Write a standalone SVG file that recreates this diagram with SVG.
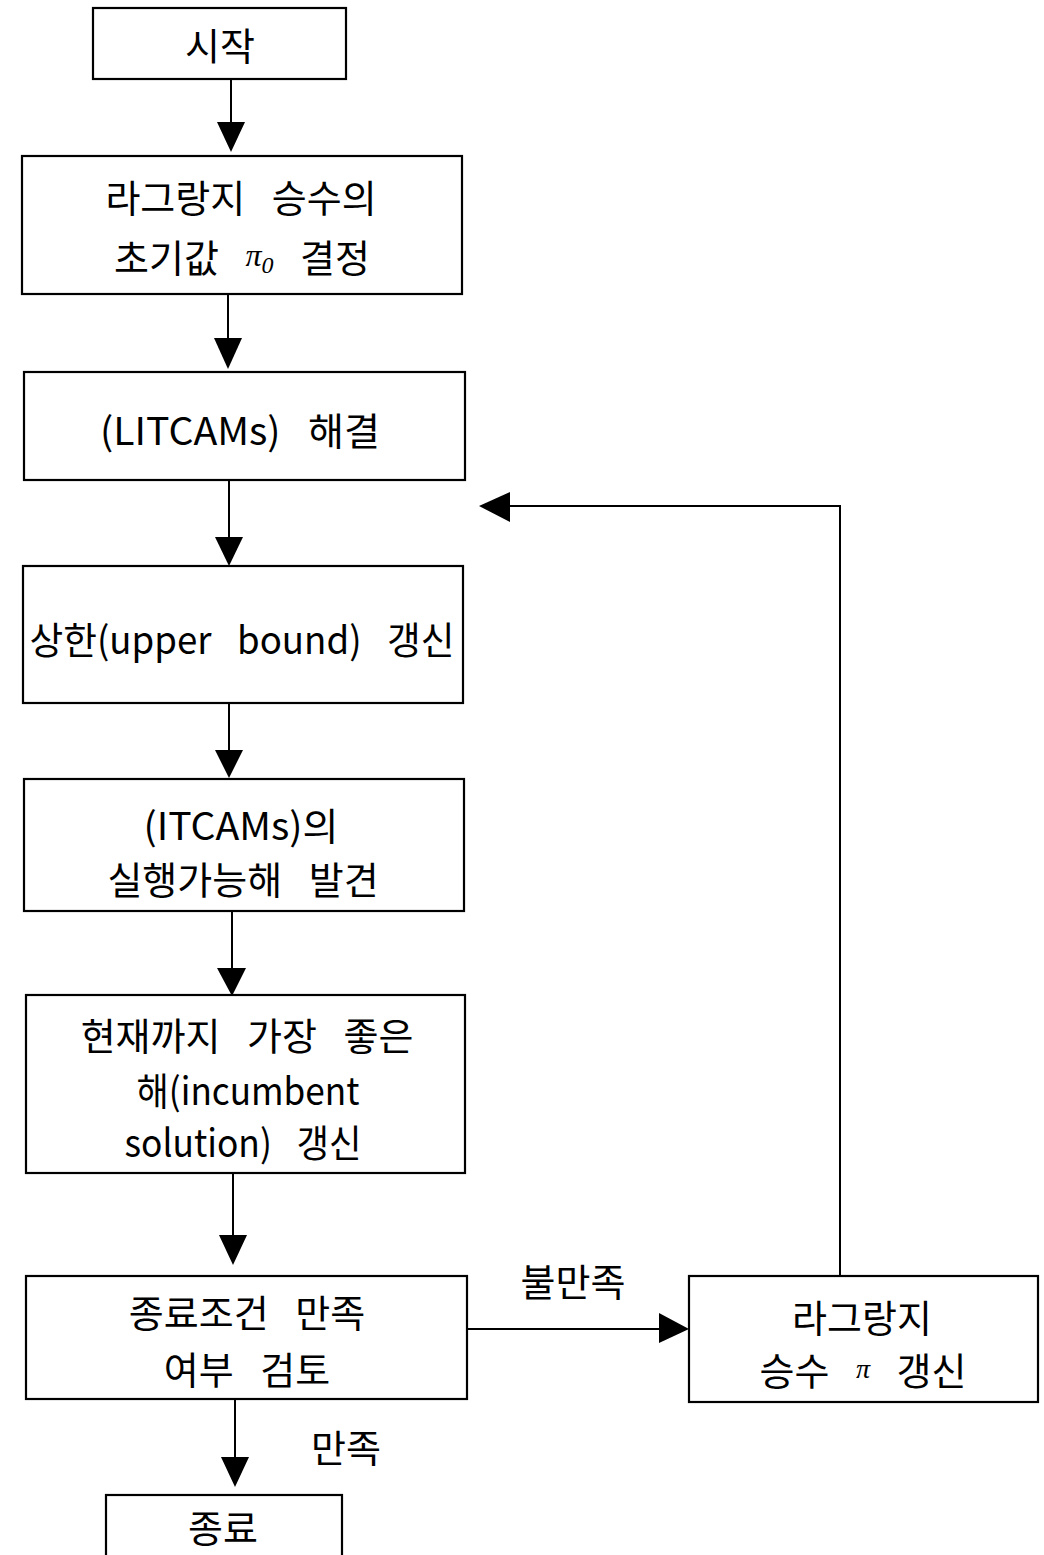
<svg xmlns="http://www.w3.org/2000/svg" width="1044" height="1555" viewBox="0 0 1044 1555">
<style>
.box{fill:#fff;stroke:#000;stroke-width:2.2}
.t{font-family:"Noto Sans CJK KR","Noto Sans",sans-serif;font-size:38px;fill:#000;text-anchor:middle;dominant-baseline:central;word-spacing:18px}
.lab{font-family:"Noto Sans CJK KR","Noto Sans",sans-serif;font-size:38px;fill:#000;text-anchor:middle;dominant-baseline:central}
.pi{font-family:"Liberation Serif",serif;font-style:italic}
.ln{fill:none;stroke:#000;stroke-width:2}
.hd{fill:#000;stroke:none}
</style>
<rect width="1044" height="1555" fill="#fff"/>
<g id="connectors">
<line class="ln" x1="231" y1="79" x2="231" y2="124"/><polygon class="hd" points="217,122 245,122 231,152"/>
<line class="ln" x1="228" y1="294" x2="228" y2="340"/><polygon class="hd" points="214,338 242,338 228,369"/>
<line class="ln" x1="229" y1="480" x2="229" y2="539"/><polygon class="hd" points="215,537 243,537 229,566"/>
<line class="ln" x1="229" y1="703" x2="229" y2="752"/><polygon class="hd" points="215,750 243,750 229,778"/>
<line class="ln" x1="232" y1="911" x2="232" y2="970"/><polygon class="hd" points="217,968 246,968 232,996"/>
<line class="ln" x1="233" y1="1173" x2="233" y2="1237"/><polygon class="hd" points="219,1235 247,1235 233,1265"/>
<line class="ln" x1="467" y1="1329" x2="661" y2="1329"/><polygon class="hd" points="659,1313 659,1343 689,1329"/>
<polyline class="ln" points="840,1276 840,506 508,506"/><polygon class="hd" points="510,492 510,522 479,506"/>
<line class="ln" x1="235" y1="1399" x2="235" y2="1459"/><polygon class="hd" points="221,1457 249,1457 235,1487"/>
<text class="lab" x="573" y="1279">불만족</text>
<text class="lab" x="346" y="1445">만족</text>
</g>
<g id="start"><rect class="box" x="93" y="8" width="253" height="71"/><text class="t" x="220" y="43">시작</text></g>
<g id="init"><rect class="box" x="22" y="156" width="440" height="138"/>
<text class="t" x="241" y="195">라그랑지 승수의</text>
<text class="t" x="242" y="255">초기값 <tspan class="pi" font-size="32">π</tspan><tspan class="pi" font-size="24" dy="10" font-style="normal">0</tspan><tspan dy="-10"> 결정</tspan></text></g>
<g id="solve"><rect class="box" x="24" y="372" width="441" height="108"/><text class="t" x="240" y="428" textLength="280" lengthAdjust="spacingAndGlyphs">(LITCAMs) 해결</text></g>
<g id="upper"><rect class="box" x="23" y="566" width="440" height="137"/><text class="t" x="242" y="637" textLength="425" lengthAdjust="spacingAndGlyphs">상한(upper bound) 갱신</text></g>
<g id="feasible"><rect class="box" x="24" y="779" width="440" height="132"/>
<text class="t" x="241" y="823" textLength="195" lengthAdjust="spacingAndGlyphs">(ITCAMs)의</text>
<text class="t" x="243" y="877">실행가능해 발견</text></g>
<g id="incumbent"><rect class="box" x="26" y="995" width="439" height="178"/>
<text class="t" x="247" y="1033">현재까지 가장 좋은</text>
<text class="t" x="248" y="1088" textLength="223" lengthAdjust="spacingAndGlyphs">해(incumbent</text>
<text class="t" x="243" y="1140" textLength="237" lengthAdjust="spacingAndGlyphs">solution) 갱신</text></g>
<g id="check"><rect class="box" x="26" y="1276" width="441" height="123"/>
<text class="t" x="247" y="1310">종료조건 만족</text>
<text class="t" x="247" y="1367">여부 검토</text></g>
<g id="update"><rect class="box" x="689" y="1276" width="349" height="126"/>
<text class="t" x="862" y="1315">라그랑지</text>
<text class="t" x="863" y="1368">승수 <tspan class="pi" font-size="28">π</tspan> 갱신</text></g>
<g id="end"><rect class="box" x="106" y="1495" width="236" height="80"/><text class="t" x="223" y="1525">종료</text></g>
</svg>
